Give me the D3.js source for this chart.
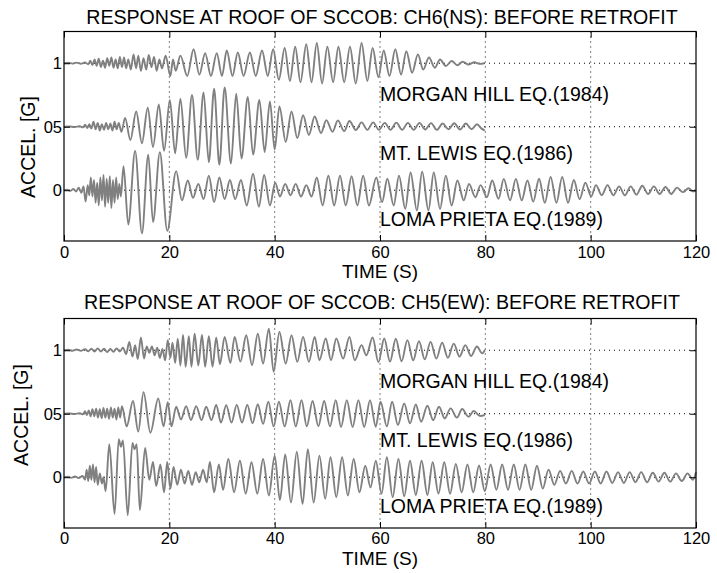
<!DOCTYPE html>
<html>
<head>
<meta charset="utf-8">
<script src="https://cdn.jsdelivr.net/npm/d3@7"></script>
<style>
  body { margin: 0; background: #fff; }
  text { font-family: "Liberation Sans", Arial, Helvetica, sans-serif; fill: #000; }
</style>
</head>
<body>
<svg id="chart" width="717" height="573"></svg>
<script>
// chart text
var panelTitles = ["RESPONSE AT ROOF OF SCCOB: CH6(NS): BEFORE RETROFIT",
                   "RESPONSE AT ROOF OF SCCOB: CH5(EW): BEFORE RETROFIT"];
var quakeLabels = ["MORGAN HILL EQ.(1984)", "MT. LEWIS EQ.(1986)", "LOMA PRIETA EQ.(1989)"];
var xTicks = [0, 20, 40, 60, 80, 100, 120];
var yTicks = [0, 0.5, 1];
var yTickLabels = ["0", "05", "1"];
// baseline offset of each record (G)
var traceOffsets = [1, 0.5, 0];

// peaks / troughs: [time s, accel G about the baseline]
var nsMorganHill = [[0,0],[0.8,0.004],[1.6,-0.003],[2.4,0.005],[3.2,-0.004],[4.0,0.006],[4.6,-0.008],
  [5.0,0.02],[5.4,-0.015],[5.8,0.03],[6.2,-0.02],[6.6,0.035],[7.0,-0.03],[7.4,0.02],[7.8,-0.035],[8.2,0.04],
  [8.6,-0.02],[9.0,0.045],[9.4,-0.035],[9.8,0.03],[10.2,-0.04],[10.6,0.05],[11.0,-0.03],[11.4,0.045],[11.8,-0.04],
  [12.2,0.03],[12.7,-0.05],[13.2,0.07],[13.7,-0.04],[14.1,0.06],[14.6,-0.06],[15.1,0.04],[15.6,-0.05],[16.1,0.065],
  [16.6,-0.03],[17.1,0.05],[17.6,-0.06],[18.1,0.03],[18.6,-0.04],[19.3,0.06],[20.2,-0.1],[20.7,0.03],[21.2,-0.06],
  [22.1,0.06],[23.4,-0.1],[24.6,0.11],[25.7,-0.09],[26.8,0.08],[27.9,-0.1],[29.0,0.08],[30.0,-0.1],[30.9,0.1],
  [32.0,-0.1],[33.0,0.085],[34.1,-0.1],[35.3,0.085],[36.4,-0.1],[37.6,0.1],[38.7,-0.1],[39.7,0.11],[40.8,-0.13],
  [41.9,0.12],[42.9,-0.14],[43.9,0.13],[44.9,-0.15],[46.0,0.15],[47.0,-0.15],[48.0,0.16],[49.0,-0.16],[50.0,0.13],
  [51.1,-0.15],[52.1,0.13],[53.2,-0.15],[54.3,0.13],[55.4,-0.16],[56.5,0.16],[57.6,-0.14],[58.6,0.12],[59.7,-0.11],
  [60.7,0.1],[61.8,-0.1],[62.9,0.11],[64.0,-0.09],[65.0,0.095],[66.1,-0.075],[67.2,0.07],[68.2,-0.05],[69.3,0.045],
  [70.4,-0.035],[71.4,0.03],[72.5,-0.022],[73.6,0.018],[74.7,-0.016],[75.7,0.012],[76.8,-0.01],[77.9,0.008],
  [79.0,-0.005],[79.8,0]];

var nsMtLewis = [[0,0],[1,0.003],[2,-0.003],[3,0.004],[3.6,-0.005],
  [4.0,0.015],[4.4,-0.01],[4.8,0.02],[5.2,-0.015],[5.6,0.04],[6.0,-0.02],[6.4,0.03],[6.8,-0.03],[7.2,0.02],
  [7.6,-0.025],[8.0,0.03],[8.4,-0.02],[8.8,0.025],[9.2,-0.03],[9.6,0.04],[10.0,-0.02],[10.4,0.03],[10.9,-0.04],
  [11.6,0.07],[12.6,-0.105],[13.7,0.12],[14.8,-0.13],[15.9,0.15],[16.9,-0.16],[18.0,0.175],[19.0,-0.19],[20.1,0.21],
  [21.1,-0.21],[22.1,0.22],[23.2,-0.245],[24.3,0.25],[25.4,-0.26],[26.5,0.27],[27.5,-0.28],[28.5,0.3],[29.5,-0.3],
  [30.5,0.31],[31.7,-0.29],[32.7,0.26],[33.7,-0.25],[34.9,0.235],[35.9,-0.22],[37.1,0.21],[38.1,-0.2],[39.1,0.2],
  [40.0,-0.18],[40.9,0.16],[42.1,-0.12],[43.2,0.12],[44.3,-0.09],[45.4,0.09],[46.5,-0.065],[47.6,0.08],[48.8,-0.05],
  [49.8,0.052],[51.0,-0.04],[52.0,0.05],[53.2,-0.035],[54.2,0.045],[55.4,-0.026],[56.5,0.034],[57.6,-0.025],
  [58.7,0.034],[59.8,-0.025],[60.9,0.03],[62.0,-0.025],[63.1,0.032],[64.2,-0.025],[65.3,0.03],[66.4,-0.025],
  [67.5,0.03],[68.6,-0.022],[69.7,0.028],[70.8,-0.025],[71.9,0.025],[73.0,-0.02],[74.1,0.027],[75.2,-0.022],
  [76.3,0.025],[77.4,-0.02],[78.4,0.02],[79.3,-0.015],[79.9,-0.03]];

var nsLomaPrieta = [[0,0],[0.6,0.005],[1.2,-0.005],[1.8,0.01],[2.3,-0.01],[2.8,0.02],[3.3,-0.02],[3.7,0.03],
  [4.1,-0.09],[4.5,0.04],[4.8,-0.04],[5.1,0.1],[5.4,-0.05],[5.7,0.08],[6.0,-0.1],[6.3,0.06],[6.6,-0.12],[6.9,0.1],
  [7.2,-0.08],[7.5,0.12],[7.8,-0.13],[8.1,0.09],[8.4,-0.1],[8.7,0.11],[9.0,-0.14],[9.3,0.08],[9.6,-0.1],[9.9,0.1],
  [10.2,-0.07],[10.5,0.05],[10.8,-0.05],[11.3,0.19],[12.2,-0.27],[13.5,0.31],[14.8,-0.34],[16.0,0.28],[16.9,-0.25],
  [18.2,0.3],[19.6,-0.32],[21.3,0.15],[22.4,-0.08],[23.5,0.076],[24.5,-0.06],[25.5,0.05],[26.5,-0.07],[27.5,0.115],
  [28.5,-0.094],[29.5,0.1],[30.5,-0.07],[31.5,0.08],[32.5,-0.07],[33.6,0.08],[34.7,-0.12],[35.9,0.13],[37.0,-0.13],
  [38.0,0.12],[39.1,-0.12],[40.1,0.06],[41.0,-0.05],[42.0,0.05],[43.0,-0.04],[44.0,0.05],[45.0,-0.05],[46.0,0.04],
  [47.0,-0.05],[48.0,0.1],[49.1,-0.12],[50.2,0.115],[51.3,-0.12],[52.4,0.115],[53.5,-0.12],[54.6,0.11],[55.7,-0.12],
  [56.8,0.115],[57.9,-0.12],[59.3,0.1],[60.4,-0.094],[61.4,0.09],[62.6,-0.12],[63.6,0.115],[64.8,-0.147],[65.8,0.14],
  [67.0,-0.16],[68.0,0.146],[69.2,-0.16],[70.2,0.14],[71.4,-0.147],[72.5,0.115],[73.6,-0.12],[74.7,0.076],[75.9,-0.08],
  [76.9,0.05],[78.1,-0.055],[79.1,0.04],[80.3,-0.055],[81.3,0.076],[82.5,-0.068],[83.5,0.089],[84.7,-0.08],[85.8,0.089],
  [86.9,-0.08],[88.0,0.076],[89.1,-0.09],[90.2,0.09],[91.3,-0.1],[92.4,0.105],[93.5,-0.1],[94.6,0.105],[95.7,-0.1],
  [96.8,0.08],[97.9,-0.07],[99.0,0.06],[100.1,-0.05],[101.0,0.04],[102.1,-0.04],[103.2,0.04],[104.3,-0.04],
  [105.4,0.03],[106.5,-0.04],[107.6,0.03],[108.7,-0.035],[109.8,0.035],[110.9,-0.03],[112.0,0.03],[113.1,-0.03],
  [114.2,0.025],[115.3,-0.03],[116.4,0.02],[117.5,-0.015],[118.6,0.015],[119.5,-0.01],[120,0]];

var ewMorganHill = [[0,0],[0.8,0.004],[1.6,-0.004],[2.4,0.006],[3.2,-0.005],[4.0,0.008],[4.6,-0.008],[5.2,0.012],
  [5.8,-0.01],[6.4,0.015],[7.0,-0.01],[7.6,0.012],[8.2,-0.015],[8.8,0.01],[9.4,-0.012],[10.0,0.015],[10.6,-0.01],
  [11.2,0.02],[11.8,-0.03],[12.4,0.065],[13.0,-0.05],[13.5,0.04],[14.0,-0.07],[14.6,0.1],[15.2,-0.065],[15.7,0.03],
  [16.2,-0.02],[16.7,0.03],[17.2,-0.04],[17.7,0.02],[18.2,-0.06],[18.7,0.01],[19.2,-0.08],[19.7,0.08],[20.2,-0.06],
  [20.6,0.06],[21.1,-0.1],[21.6,0.09],[22.1,-0.12],[22.6,0.12],[23.1,-0.13],[23.7,0.11],[24.2,-0.13],[24.8,0.13],
  [25.5,-0.12],[26.2,0.12],[26.8,-0.13],[27.5,0.11],[28.2,-0.13],[28.9,0.1],[29.6,-0.11],[30.5,0.105],[31.6,-0.1],
  [32.4,0.105],[33.5,-0.09],[34.6,0.118],[35.7,-0.118],[36.8,0.13],[37.8,-0.105],[38.9,0.17],[39.8,-0.17],
  [40.9,0.144],[42.1,-0.105],[43.2,0.118],[44.3,-0.092],[45.4,0.105],[46.5,-0.092],[47.6,0.105],[48.5,-0.079],
  [49.7,0.092],[50.7,-0.079],[51.7,0.092],[53.0,-0.066],[54.2,0.105],[55.2,-0.079],[56.5,0.04],[57.4,-0.04],
  [58.6,0.1],[59.7,-0.095],[60.8,0.092],[61.9,-0.09],[63.0,0.09],[64.1,-0.087],[65.2,0.08],[66.3,-0.08],[67.4,0.072],
  [68.5,-0.072],[69.6,0.066],[70.7,-0.066],[71.8,0.06],[72.9,-0.06],[74.0,0.052],[75.1,-0.05],[76.2,0.04],
  [77.3,-0.045],[78.4,0.03],[79.4,-0.025],[79.9,0]];

var ewMtLewis = [[0,0],[1,0.003],[2,-0.003],[3,0.004],[3.6,-0.005],
  [4.0,0.02],[4.35,-0.01],[4.7,0.025],[5.05,-0.02],[5.4,0.035],[5.75,-0.02],[6.1,0.04],[6.45,-0.03],[6.8,0.035],
  [7.15,-0.035],[7.5,0.045],[7.85,-0.03],[8.2,0.04],[8.55,-0.04],[8.9,0.05],[9.25,-0.03],[9.6,0.04],[9.95,-0.045],
  [10.3,0.05],[10.65,-0.03],[11.0,0.06],[11.9,-0.1],[13.1,0.1],[14.1,-0.14],[15.1,0.17],[16.4,-0.15],[17.9,0.12],
  [18.9,-0.1],[19.7,0.09],[20.4,-0.1],[21.3,0.055],[22.2,-0.045],[23.2,0.06],[24.1,-0.05],[25.1,0.06],[26.1,-0.05],
  [27.0,0.055],[28.0,-0.05],[28.9,0.07],[29.8,-0.07],[30.8,0.068],[31.8,-0.07],[32.8,0.07],[33.8,-0.07],[34.8,0.07],
  [35.8,-0.075],[36.8,0.075],[37.8,-0.08],[38.8,0.095],[39.8,-0.1],[40.8,0.095],[41.9,-0.1],[43.0,0.107],[44.0,-0.1],
  [45.1,0.107],[46.1,-0.1],[47.2,0.1],[48.3,-0.1],[49.4,0.1],[50.5,-0.1],[51.6,0.107],[52.6,-0.105],[53.7,0.107],
  [54.8,-0.105],[55.9,0.107],[57.0,-0.105],[58.1,0.107],[59.2,-0.102],[60.1,0.094],[61.3,-0.1],[62.3,0.094],
  [63.4,-0.089],[64.6,0.08],[65.7,-0.076],[66.8,0.073],[67.8,-0.063],[69.0,0.063],[70.1,-0.05],[71.2,0.055],
  [72.3,-0.037],[73.4,0.042],[74.6,-0.031],[75.6,0.037],[76.8,-0.024],[77.8,0.021],[79.0,-0.018],[79.9,-0.01]];

var ewLomaPrieta = [[0,0],[0.7,0.005],[1.4,-0.005],[2.1,0.006],[2.8,-0.006],[3.5,0.01],[4.0,-0.02],
  [4.3,0.06],[4.6,-0.03],[4.9,0.09],[5.2,-0.02],[5.5,0.1],[5.8,-0.04],[6.1,0.08],[6.4,-0.06],[6.8,0.03],[7.2,-0.05],
  [7.5,0.0],[7.9,-0.11],[8.6,0.26],[9.6,-0.29],[10.4,0.3],[10.8,0.24],[11.2,0.29],[12.1,-0.3],[13.0,0.27],
  [13.4,0.22],[13.8,0.26],[14.4,-0.26],[15.4,0.23],[16.2,-0.02],[16.9,0.12],[17.5,-0.07],[18.3,0.1],[19.0,-0.12],
  [19.6,0.12],[20.2,-0.09],[20.8,0.08],[21.5,-0.06],[22.2,0.06],[22.9,-0.05],[23.6,0.05],[24.3,-0.06],[25.0,0.04],
  [25.7,-0.04],[26.4,0.06],[27.1,-0.04],[27.7,0.12],[28.5,-0.12],[29.4,0.1],[30.2,-0.1],[31.2,0.144],[32.3,-0.118],
  [33.4,0.13],[34.5,-0.13],[35.6,0.118],[36.7,-0.13],[37.8,0.144],[38.9,-0.144],[40.0,0.17],[41.0,-0.18],[42.0,0.18],
  [43.1,-0.2],[44.2,0.2],[45.3,-0.21],[46.3,0.22],[47.4,-0.2],[48.5,0.17],[49.6,-0.17],[50.6,0.157],[51.7,-0.157],
  [52.8,0.157],[53.9,-0.144],[55.0,0.144],[56.1,-0.118],[57.2,0.09],[58.2,-0.08],[59.2,0.13],[60.3,-0.13],
  [61.3,0.157],[62.4,-0.157],[63.5,0.144],[64.6,-0.15],[65.7,0.13],[66.8,-0.14],[67.9,0.13],[69.0,-0.14],
  [70.0,0.118],[71.1,-0.13],[72.2,0.118],[73.3,-0.13],[74.4,0.105],[75.5,-0.12],[76.6,0.1],[77.7,-0.12],[78.8,0.092],
  [79.9,-0.11],[81.0,0.1],[82.1,-0.1],[83.2,0.1],[84.3,-0.1],[85.4,0.1],[86.5,-0.1],[87.6,0.1],[88.7,-0.1],
  [89.8,0.09],[90.9,-0.09],[92.0,0.06],[93.1,-0.06],[94.2,0.05],[95.3,-0.05],[96.4,0.05],[97.5,-0.05],[98.6,0.045],
  [99.7,-0.05],[100.8,0.045],[101.9,-0.05],[103.0,0.045],[104.1,-0.045],[105.2,0.04],[106.3,-0.045],[107.4,0.04],
  [108.5,-0.04],[109.6,0.04],[110.7,-0.04],[111.8,0.035],[112.9,-0.035],[114.0,0.035],[115.1,-0.035],[116.2,0.03],
  [117.3,-0.03],[118.4,0.03],[119.4,-0.02],[120,0.04]];

var svg = d3.select("#chart");

var panels = [
  {title: panelTitles[0], traces: [nsMorganHill, nsMtLewis, nsLomaPrieta],
   top: 31.5, bottom: 241, titleY: 24, tickY: 258, xLabelY: 278, yLabelX: 35, yLabelY: 147},
  {title: panelTitles[1], traces: [ewMorganHill, ewMtLewis, ewLomaPrieta],
   top: 318.5, bottom: 528, titleY: 309, tickY: 543.5, xLabelY: 565, yLabelX: 28, yLabelY: 415}
];

var left = 64, right = 696;
var x = d3.scaleLinear().domain([0, 120]).range([left, right]);
// label baselines sit this far below each record's baseline (G)
var labelDrop = [0.3, 0.26, 0.28];

panels.forEach(function(p) {
  var y = d3.scaleLinear().domain([-0.4, 1.25]).range([p.bottom, p.top]);
  var g = svg.append("g");

  // dotted grid
  g.selectAll(".gx").data(xTicks.slice(1, -1)).enter().append("line")
    .attr("x1", function(d) { return x(d); }).attr("x2", function(d) { return x(d); })
    .attr("y1", p.top).attr("y2", p.bottom)
    .attr("stroke", "#000").attr("stroke-width", 1).attr("stroke-dasharray", "1,4");
  g.selectAll(".gy").data(yTicks).enter().append("line")
    .attr("x1", left).attr("x2", right)
    .attr("y1", function(d) { return y(d); }).attr("y2", function(d) { return y(d); })
    .attr("stroke", "#000").attr("stroke-width", 1).attr("stroke-dasharray", "1,4");

  // records
  p.traces.forEach(function(tr, i) {
    var line = d3.line()
      .x(function(d) { return x(d[0]); })
      .y(function(d) { return y(traceOffsets[i] + d[1]); })
      .curve(d3.curveMonotoneX);
    g.append("path").attr("d", line(tr))
      .attr("fill", "none").attr("stroke", "#808080").attr("stroke-width", 1.9)
      .attr("stroke-linejoin", "round");
  });

  // record labels
  quakeLabels.forEach(function(lab, i) {
    g.append("text").attr("x", x(60)).attr("y", y(traceOffsets[i] - labelDrop[i]))
      .attr("font-size", 19.5).text(lab);
  });

  // axes with inward ticks on all four sides
  var axB = d3.axisBottom(x).tickValues(xTicks).tickSizeInner(-6).tickSizeOuter(0);
  var axT = d3.axisTop(x).tickValues(xTicks).tickSizeInner(-6).tickSizeOuter(0).tickFormat("");
  var axL = d3.axisLeft(y).tickValues(yTicks).tickSizeInner(-6).tickSizeOuter(0)
    .tickFormat(function(d, i) { return yTickLabels[i]; });
  var axR = d3.axisRight(y).tickValues(yTicks).tickSizeInner(-6).tickSizeOuter(0).tickFormat("");

  var gb = g.append("g").attr("transform", "translate(0," + p.bottom + ")").call(axB);
  gb.selectAll("text").attr("y", p.tickY - p.bottom).attr("dy", null);
  g.append("g").attr("transform", "translate(0," + p.top + ")").call(axT);
  var gl = g.append("g").attr("transform", "translate(" + left + ",0)").call(axL);
  gl.selectAll("text").attr("x", -2);
  g.append("g").attr("transform", "translate(" + right + ",0)").call(axR);
  g.selectAll(".domain").remove();
  g.selectAll(".tick line").attr("stroke", "#000");
  g.selectAll(".tick text").attr("font-size", 16.5)
    .attr("font-family", "'Liberation Sans', Arial, sans-serif").attr("fill", "#000");

  // frame
  g.append("rect").attr("x", left).attr("y", p.top)
    .attr("width", right - left).attr("height", p.bottom - p.top)
    .attr("fill", "none").attr("stroke", "#000").attr("stroke-width", 1.2);

  g.append("text").attr("x", (left + right) / 2 + 2).attr("y", p.titleY)
    .attr("text-anchor", "middle").attr("font-size", 19.6).text(p.title);
  g.append("text").attr("x", (left + right) / 2).attr("y", p.xLabelY)
    .attr("text-anchor", "middle").attr("font-size", 19).text("TIME (S)");
  g.append("text").attr("transform", "translate(" + p.yLabelX + "," + p.yLabelY + ") rotate(-90)")
    .attr("text-anchor", "middle").attr("font-size", 19.5).text("ACCEL. [G]");
});
</script>
</body>
</html>
